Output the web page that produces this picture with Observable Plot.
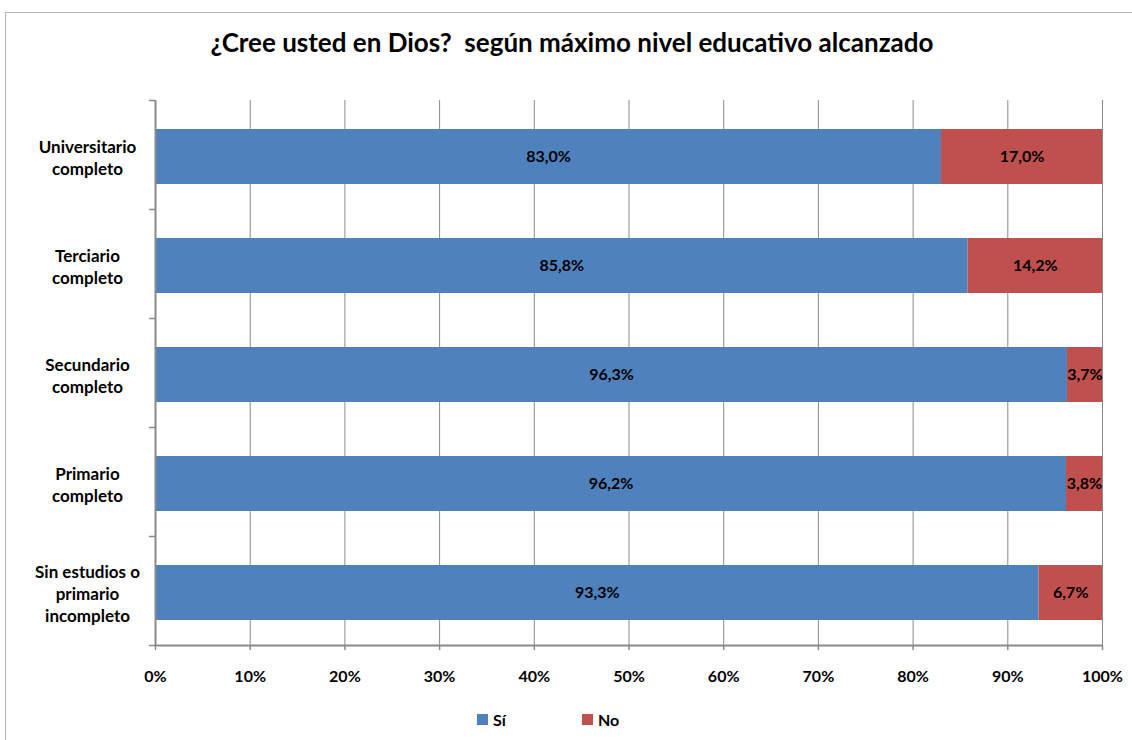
<!DOCTYPE html>
<html>
<head>
<meta charset="utf-8">
<script src="https://cdn.jsdelivr.net/npm/d3@7"></script>
<script src="https://cdn.jsdelivr.net/npm/@observablehq/plot@0.6"></script>
<style>
  html, body { margin: 0; padding: 0; background: #fff; }
  #wrap { position: relative; width: 1132px; height: 740px; overflow: hidden; font-family: Lato, "Open Sans", sans-serif; }
  #frame { position: absolute; left: 5px; top: 12px; width: 1200px; height: 800px; border: 1px solid #b5b5b5; box-sizing: border-box; }
  #title { position: absolute; left: 0; top: 26px; width: 1144px; text-align: center; font-weight: bold; font-size: 26px; color: #000; white-space: pre; }
  #chart { position: absolute; left: 0; top: 0; }
  #legend { position: absolute; top: 710px; left: 0; width: 1132px; font-weight: bold; font-size: 16px; color: #000; }
  .li { position: absolute; display: flex; align-items: center; }
  .sw { width: 11px; height: 11px; margin-right: 5px; }
</style>
</head>
<body>
<div id="wrap">
  <div id="frame"></div>
  <div id="title">¿Cree usted en Dios?  según máximo nivel educativo alcanzado</div>
  <div id="chart"></div>
  <div id="legend"></div>
</div>
<script>
// ---- data ----
const categories = [
  "Universitario\ncompleto",
  "Terciario\ncompleto",
  "Secundario\ncompleto",
  "Primario\ncompleto",
  "Sin estudios o\nprimario\nincompleto"
];
const responses = ["Sí", "No"];
const siValues = [83.0, 85.8, 96.3, 96.2, 93.3];
const noValues = [17.0, 14.2, 3.7, 3.8, 6.7];
const colors = ["#4F81BD", "#C0504D"];
const xTicks = [0, 10, 20, 30, 40, 50, 60, 70, 80, 90, 100];

const data = [];
categories.forEach((c, i) => {
  data.push({cat: c, resp: "Sí", value: siValues[i]});
  data.push({cat: c, resp: "No", value: noValues[i]});
});
const fmt = v => v.toFixed(1).replace(".", ",") + "%";

const plot = Plot.plot({
  width: 1132,
  height: 700,
  marginLeft: 155,
  marginRight: 30,
  marginTop: 100,
  marginBottom: 55,
  style: {fontFamily: "Lato, 'Open Sans', sans-serif", background: "transparent"},
  x: {domain: [0, 100], axis: null, label: null},
  y: {domain: categories, padding: 0, paddingInner: 0.5, paddingOuter: 0.25, axis: null, label: null},
  color: {domain: responses, range: colors},
  marks: [
    Plot.ruleX(xTicks.filter(d => d > 0), {stroke: "#8a8a8a", strokeWidth: 1}),
    Plot.barX(data, Plot.stackX({x: "value", y: "cat", fill: "resp", z: "resp", order: responses, insetTop: 2, insetBottom: -2})),
    Plot.text(data, Plot.stackX({x: "value", y: "cat", z: "resp", order: responses, text: d => fmt(d.value), dy: 2, fontWeight: "bold", fontSize: 16, fill: "#000"})),
    // y-axis line
    Plot.ruleX([0], {stroke: "#8a8a8a", strokeWidth: 2}),
    // x-axis line
    Plot.ruleY([0], {y: () => categories[categories.length - 1], dy: 54.5, x1: 0, x2: 100, stroke: "#8a8a8a", strokeWidth: 2}),
    // y-axis category boundary ticks
    Plot.ruleY(categories, {y: d => d, dy: 54.5, x1: 0, x2: 0, insetLeft: -6, stroke: "#8a8a8a", strokeWidth: 1.5}),
    Plot.ruleY([categories[0]], {y: d => d, dy: -54.5, x1: 0, x2: 0, insetLeft: -6, stroke: "#8a8a8a", strokeWidth: 1.5}),
    // y labels
    Plot.text(categories, {y: d => d, x: 0, dx: -68, dy: 2, text: d => d, textAnchor: "middle", fontWeight: "bold", fontSize: 17, lineHeight: 1.3, fill: "#000"}),
    // x axis
    Plot.axisX(xTicks, {label: null, tickSize: 5, tickPadding: 20, tickFormat: d => d + "%", fontWeight: "bold", fontSize: 16, stroke: "#8a8a8a", strokeWidth: 1.5, fill: "#000"})
  ]
});
document.getElementById("chart").appendChild(plot);

// legend
const legend = document.getElementById("legend");
const legX = [477, 582];
responses.forEach((r, i) => {
  const li = document.createElement("div");
  li.className = "li";
  li.style.left = legX[i] + "px";
  const sw = document.createElement("div");
  sw.className = "sw";
  sw.style.background = colors[i];
  const t = document.createElement("span");
  t.textContent = r;
  li.appendChild(sw); li.appendChild(t);
  legend.appendChild(li);
});
</script>
</body>
</html>
